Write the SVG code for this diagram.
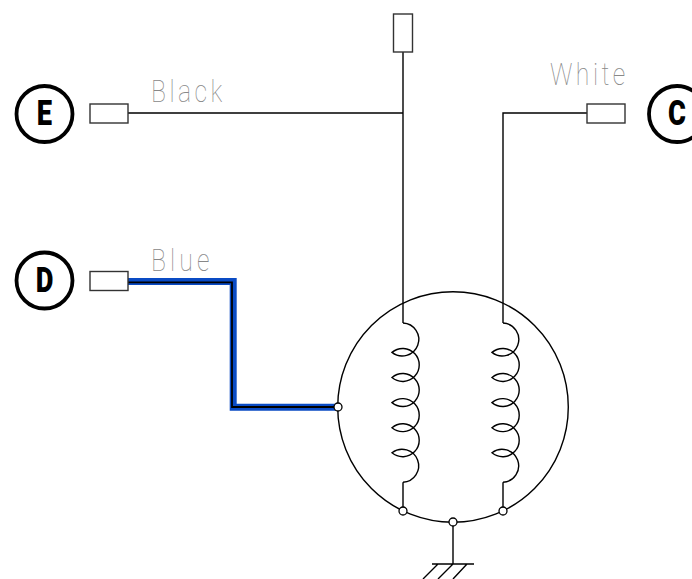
<svg xmlns="http://www.w3.org/2000/svg" xmlns:xlink="http://www.w3.org/1999/xlink" width="692" height="579" viewBox="0 0 692 579">
<style>
.w{fill:none;stroke:#000;stroke-width:1.4}
.t{fill:#fff;stroke:#333;stroke-width:1.4}
.c{fill:#fff;stroke:#000;stroke-width:3.800}
.p{fill:#fff;stroke:#000;stroke-width:1.3}
.l{font-family:"Roboto",sans-serif;font-weight:100;font-size:31px;fill:#888}
.b{font-family:"Roboto",sans-serif;font-weight:900;font-size:35px;fill:#000;text-anchor:middle}
</style>
<defs>
<path id="coil" class="w" d="M403 323A16.500 16.500 0 1 1 392 352.400A16.500 16.500 0 1 1 392 377.500A16.500 16.500 0 1 1 392 402.600A16.500 16.500 0 1 1 392 427.700A16.500 16.500 0 1 1 392 452.800A16.500 16.500 0 1 1 403 482.300"/>
</defs>
<g id="connectors">
<path d="M128 281.500H233.200V407.300H338" fill="none" stroke="#0a4bc4" stroke-width="7"/>
<path d="M128 282.300H232V407H338" fill="none" stroke="#000" stroke-width="1.800"/>
<path class="w" d="M128 113H403M403 52V323"/>
<path class="w" d="M587 113H503V323"/>
<path class="w" d="M403 482.300V511M503 482.300V511M453 522V564"/>
<use xlink:href="#coil" href="#coil"/>
<use xlink:href="#coil" href="#coil" x="100"/>
</g>
<g id="motor">
<circle class="w" cx="453" cy="407" r="115.300"/>
<circle class="p" cx="338" cy="407" r="4"/>
<circle class="p" cx="403" cy="511" r="4"/>
<circle class="p" cx="503" cy="511" r="4"/>
<circle class="p" cx="453" cy="522" r="4"/>
</g>
<g id="ground">
<path class="w" d="M432 564H474M438 564L423 579M453 564L438 579M467 564L453 579"/>
</g>
<g id="terminal-top"><rect class="t" x="393.500" y="14" width="19" height="38"/></g>
<g id="terminal-e"><rect class="t" x="90" y="104" width="38" height="19"/></g>
<g id="terminal-d"><rect class="t" x="90" y="271.500" width="38" height="19"/></g>
<g id="terminal-c"><rect class="t" x="587" y="104" width="38" height="19"/></g>
<g id="node-e"><circle class="c" cx="44.500" cy="114" r="28"/><text class="b" transform="translate(44.500 124.500) scale(.78 1)">E</text></g>
<g id="node-d"><circle class="c" cx="44.500" cy="280.500" r="28"/><text class="b" transform="translate(44.500 291.500) scale(.78 1)">D</text></g>
<g id="node-c"><circle class="c" cx="677" cy="114" r="28"/><text class="b" transform="translate(677 125) scale(.78 1)">C</text></g>
<g id="labels">
<text class="l" transform="translate(151 101.700) scale(.8 1)" textLength="89" lengthAdjust="spacing">Black</text>
<text class="l" transform="translate(151 270.700) scale(.8 1)" textLength="73" lengthAdjust="spacing">Blue</text>
<text class="l" transform="translate(550 85) scale(.8 1)" textLength="94" lengthAdjust="spacing">White</text>
</g>
</svg>
